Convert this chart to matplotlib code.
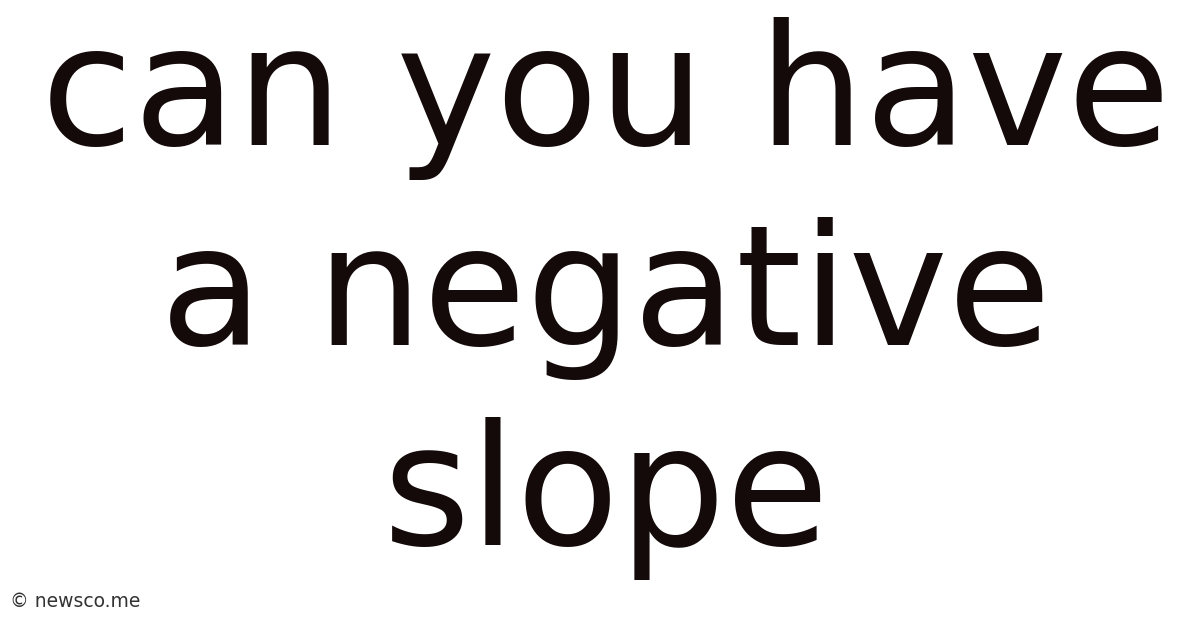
import matplotlib
matplotlib.use("Agg")
import matplotlib.pyplot as plt

# title lines and where their baselines sit (pixels from top)
title_lines = ["can you have", "a negative", "slope"]
baselines_px = [145, 345, 545]
watermark = "© newsco.me"

W, H = 1200, 628
fig = plt.figure(figsize=(W / 100, H / 100), dpi=100)
fig.patch.set_facecolor("white")

for line, y in zip(title_lines, baselines_px):
    fig.text(606 / W, 1 - y / H, line, ha="center", va="baseline",
             fontsize=121, family="DejaVu Sans", color="#140a0a")

fig.text(10 / W, 1 - 607 / H, watermark, ha="left", va="baseline",
         fontsize=13.5, family="DejaVu Sans", color="#333333")

fig.savefig("out.png", dpi=100, facecolor="white")
